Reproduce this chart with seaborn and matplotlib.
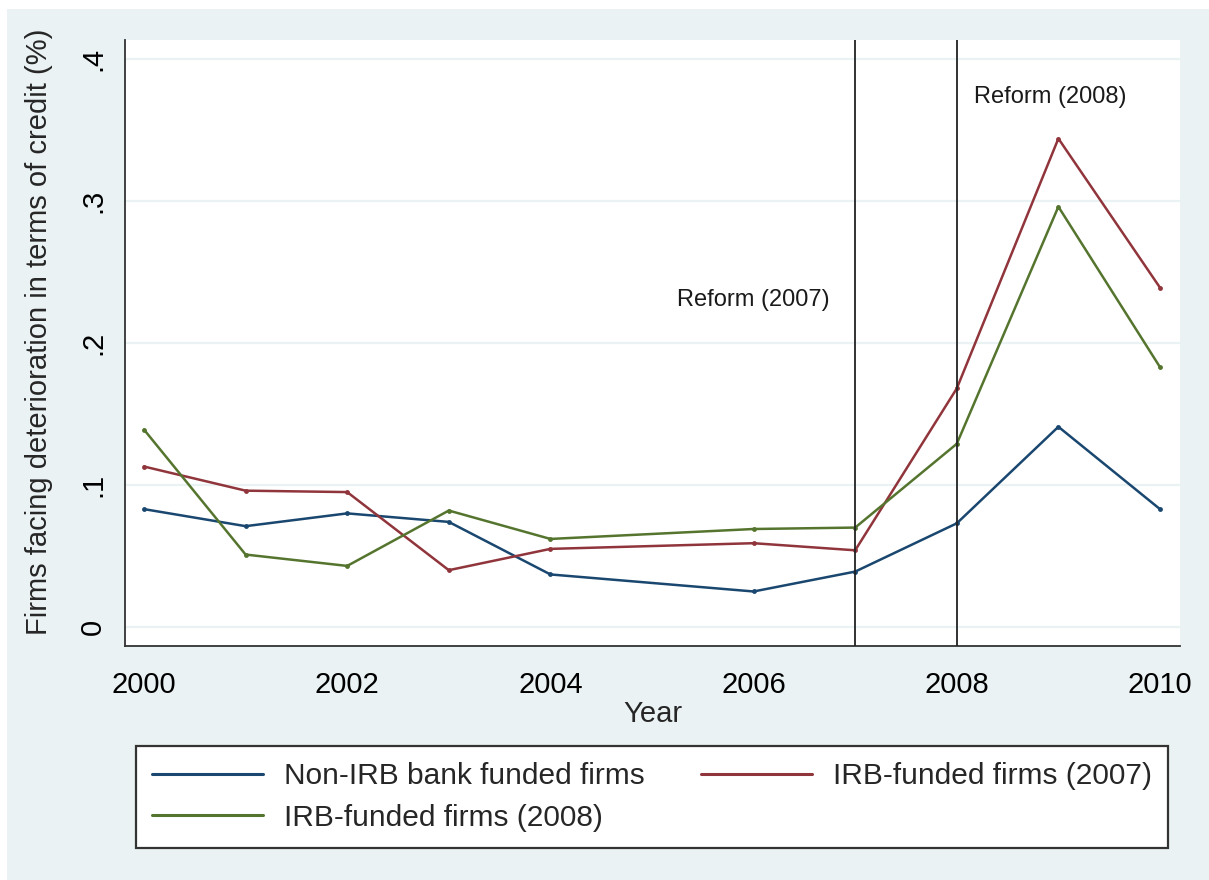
import matplotlib
matplotlib.use("Agg")
import matplotlib.pyplot as plt
import seaborn as sns
import pandas as pd
from matplotlib.lines import Line2D
from matplotlib.patches import Rectangle

# ---------------- data ----------------
years = [2000, 2001, 2002, 2003, 2004, 2006, 2007, 2008, 2009, 2010]
non_irb = [0.083, 0.071, 0.080, 0.074, 0.037, 0.025, 0.039, 0.073, 0.141, 0.083]
irb_2007 = [0.113, 0.096, 0.095, 0.040, 0.055, 0.059, 0.054, 0.168, 0.344, 0.239]
irb_2008 = [0.139, 0.051, 0.043, 0.082, 0.062, 0.069, 0.070, 0.129, 0.296, 0.183]
series_names = ["Non-IRB bank funded firms", "IRB-funded firms (2007)", "IRB-funded firms (2008)"]
reform_years = [2007, 2008]
reform_labels = ["Reform (2007)", "Reform (2008)"]
reform_label_x = [2006.0, 2008.92]
reform_label_y = [0.230, 0.373]
y_ticks = [0, 0.1, 0.2, 0.3, 0.4]
y_ticklabels = ["0", ".1", ".2", ".3", ".4"]
x_ticks = [2000, 2002, 2004, 2006, 2008, 2010]

colors = ["#1A476F", "#90353B", "#55752F"]
bg = "#EAF2F3"

df = pd.concat([
    pd.DataFrame({"Year": years, "value": v, "series": n})
    for v, n in zip([non_irb, irb_2007, irb_2008], series_names)
], ignore_index=True)

sns.set_theme(style="white")
plt.rcParams["font.family"] = ["Liberation Sans", "DejaVu Sans"]

W, H = 1209, 880
fig = plt.figure(figsize=(W / 100, H / 100), dpi=100, facecolor="white")
# light background with thin white border at top/left
fig.patches.append(Rectangle((7 / W, 0), 1 - 7 / W, 1 - 9 / H, transform=fig.transFigure,
                             facecolor=bg, edgecolor="none", zorder=-10))

L, R, T, B = 125, 1180, 40, 646
ax = fig.add_axes([L / W, 1 - B / H, (R - L) / W, (B - T) / H])
ax.set_facecolor("white")

sns.lineplot(data=df, x="Year", y="value", hue="series", palette=colors,
             hue_order=series_names, marker="o", markersize=3.5, markeredgewidth=0,
             linewidth=1.8, ax=ax, legend=False, errorbar=None, sort=True)

for yr in reform_years:
    ax.axvline(yr, color="#222222", linewidth=1.3, zorder=3)
for lx, ly, lt in zip(reform_label_x, reform_label_y, reform_labels):
    ax.text(lx, ly, lt, ha="center", va="center", fontsize=17, color="#1a1a1a")

ax.set_xlim(1999.813, 2010.197)
ax.set_ylim(-0.0134, 0.4134)
ax.set_yticks(y_ticks)
ax.set_yticklabels(y_ticklabels, rotation=90, va="center")
ax.set_xticks(x_ticks)
ax.set_xticklabels([str(x) for x in x_ticks])
ax.grid(axis="y", color=bg, linewidth=1.6, zorder=0)
ax.grid(axis="x", visible=False)

for s in ["top", "right"]:
    ax.spines[s].set_visible(False)
for s in ["left", "bottom"]:
    ax.spines[s].set_color("#333333")
    ax.spines[s].set_linewidth(1.3)

ax.tick_params(axis="both", which="major", direction="out", length=9, width=1.2,
               color="#333333", labelsize=21, labelcolor="black")
ax.tick_params(axis="x", pad=9)
ax.tick_params(axis="y", pad=4)

ax.set_xlabel("Year", fontsize=21, labelpad=1)
ax.set_ylabel("Firms facing deterioration in terms of credit (%)", fontsize=21)
ax.yaxis.set_label_coords(-0.068, 0.518)

handles = [Line2D([0], [0], color=c, linewidth=2.2) for c in colors]
order = [0, 2, 1]
leg = fig.legend([handles[i] for i in order], [series_names[i] for i in order],
                 ncol=2, loc="upper left",
                 bbox_to_anchor=(136 / W, 1 - 844 / H, (1168 - 136) / W, (844 - 746) / H),
                 mode="expand", fontsize=21.5, frameon=True, fancybox=False,
                 edgecolor="#333333", facecolor="white", framealpha=1,
                 handlelength=3.7, handletextpad=0.7, labelspacing=0.45,
                 borderpad=0.55, borderaxespad=0, columnspacing=1.5)
leg.get_frame().set_linewidth(1.6)

fig.savefig("out.png", dpi=100, facecolor=fig.get_facecolor())
